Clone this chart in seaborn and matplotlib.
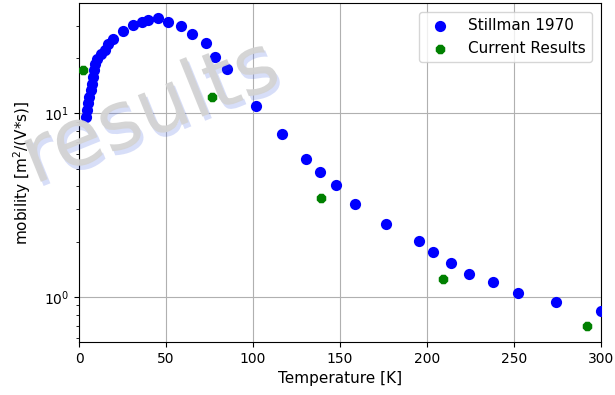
import matplotlib
matplotlib.use("Agg")
import matplotlib.pyplot as plt
import matplotlib.patheffects as pe
import seaborn as sns
import pandas as pd
import numpy as np

# Stillman 1970 data
stillman_T = [4.0, 4.4, 5.4, 5.9, 6.7, 7.3, 7.9, 8.6, 9.4, 10.5, 12.5, 14.9, 16.9, 19.7,
              25.5, 30.8, 36.0, 39.8, 45.2, 51.3, 58.4, 65.1, 72.8, 78.2, 85.2, 101.5,
              116.5, 130.5, 138.5, 147.7, 158.6, 176.4, 195.4, 203.3, 214.0, 224.1,
              238.0, 252.4, 274.0, 300.0]
stillman_mu = [9.55, 10.4, 11.3, 12.3, 13.3, 14.5, 15.8, 17.1, 18.6, 19.8, 20.9, 22.0, 23.9, 25.4,
               27.9, 30.1, 31.3, 32.3, 33.1, 31.3, 29.7, 27.1, 24.1, 20.2, 17.5, 10.9,
               7.70, 5.64, 4.77, 4.06, 3.20, 2.50, 2.01, 1.76, 1.53, 1.335,
               1.21, 1.055, 0.935, 0.835]

# Current results
current_T = [2.1, 76.4, 139.0, 209.4, 291.8]
current_mu = [17.1, 12.2, 3.45, 1.26, 0.698]

df_s = pd.DataFrame({"T": stillman_T, "mu": stillman_mu})
df_c = pd.DataFrame({"T": current_T, "mu": current_mu})

fig = plt.figure(figsize=(6.15, 3.95), dpi=100)
ax = fig.add_axes([0.1285, 0.134, 0.8485, 0.858])

sns.scatterplot(data=df_s, x="T", y="mu", ax=ax, color="blue", s=65, marker="o",
                edgecolor="blue", linewidth=0, label="Stillman 1970", zorder=3)
sns.scatterplot(data=df_c, x="T", y="mu", ax=ax, color="green", s=55, marker="8",
                edgecolor="green", linewidth=0, label="Current Results", zorder=3)

ax.set_yscale("log")
ax.set_xlim(0, 300)
ax.set_ylim(0.569, 39.7)
ax.set_xticks([0, 50, 100, 150, 200, 250, 300])
ax.grid(True, which="major", color="#b0b0b0", linewidth=0.8)
ax.set_axisbelow(True)
ax.set_xlabel("Temperature [K]", fontsize=11)
ax.set_ylabel("mobility [m$^2$/(V*s)]", fontsize=11, labelpad=8)
ax.tick_params(labelsize=10)
for sp in ax.spines.values():
    sp.set_color("black")
ax.legend(loc="upper right", fontsize=11, framealpha=0.8, borderaxespad=0.6)

fig.text(0.245, 0.712, "results", fontsize=58, color="#d3d3d3", rotation=22,
         ha="center", va="center", zorder=10, alpha=0.95,
         path_effects=[pe.SimplePatchShadow(offset=(2, -3), shadow_rgbFace="#3a5ae0", alpha=0.2),
                       pe.Normal()])

fig.savefig("out.png", dpi=100)
